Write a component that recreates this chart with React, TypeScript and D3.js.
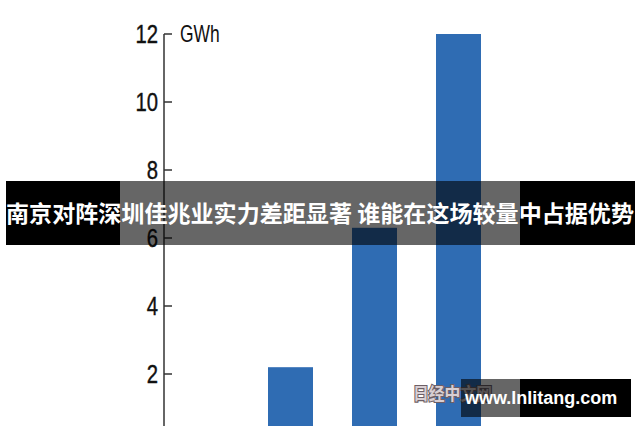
import * as d3 from "d3";

// chart data
const categories = ["A", "B", "C", "D"];
const values = [0.2, 2.2, 6.3, 12];
const yTicks = [2, 4, 6, 8, 10, 12];
const unitLabel = "GWh";
const headline = "南京对阵深圳佳兆业实力差距显著 谁能在这场较量中占据优势";
const logoText = "日经中文网";
const siteText = "www.lnlitang.com";

const W = 640;
const H = 426;
const axisX = 164;
const barColor = "#2f6cb3";
const numFont = "'Liberation Sans', Arial, sans-serif";

export default function App() {
  const y = d3.scaleLinear().domain([0, 12]).range([442, 34]);
  const x = d3
    .scaleBand<string>()
    .domain(categories)
    .range([184, 481])
    .paddingInner(0.4643)
    .paddingOuter(0);

  return (
    <svg
      width={W}
      height={H}
      style={{ position: "absolute", left: 0, top: 0, background: "#fff" }}
    >
      <rect x={0} y={0} width={W} height={H} fill="#fff" />

      {/* bars */}
      {values.map((v, i) => (
        <rect
          key={categories[i]}
          x={x(categories[i])}
          y={y(v)}
          width={x.bandwidth()}
          height={y(0) - y(v)}
          fill={barColor}
        />
      ))}

      {/* y axis, ticks point inward, labels condensed */}
      <line x1={axisX} x2={axisX} y1={y(12)} y2={H + 20} stroke="#333" strokeWidth={1.5} />
      {yTicks.map((t) => (
        <g key={t} transform={`translate(0,${y(t)})`}>
          <line x1={axisX} x2={axisX + 8} stroke="#333" strokeWidth={1.5} />
          <text
            transform="translate(158,0) scale(0.78,1)"
            dy="0.36em"
            textAnchor="end"
            fontFamily={numFont}
            fontSize={26}
            fill="#111"
            stroke="#111"
            strokeWidth={0.4}
          >
            {t}
          </text>
        </g>
      ))}
      <text
        transform={`translate(180,${y(12)}) scale(0.76,1)`}
        dy="0.36em"
        fontFamily={numFont}
        fontSize={23}
        fill="#111"
      >
        {unitLabel}
      </text>

      {/* headline banner */}
      <rect x={6} y={181} width={114} height={64} fill="#000" />
      <rect x={120} y={181} width={400} height={64} fill="rgba(0,0,0,0.6)" />
      <rect x={520} y={181} width={115} height={64} fill="#000" />
      <text
        x={320}
        y={214}
        dy="0.36em"
        textAnchor="middle"
        fontFamily="'Noto Sans CJK SC', sans-serif"
        fontWeight="bold"
        fontSize={23}
        fill="#fff"
        textLength={628}
        lengthAdjust="spacingAndGlyphs"
      >
        {headline}
      </text>

      {/* watermark */}
      <text
        x={413}
        y={394}
        dy="0.36em"
        fontFamily="'Noto Sans CJK SC', sans-serif"
        fontWeight="bold"
        fontSize={17}
        fill="#d8cfd3"
        stroke="#6e5f66"
        strokeWidth={2.2}
        paintOrder="stroke"
        textLength={79}
        lengthAdjust="spacingAndGlyphs"
      >
        {logoText}
      </text>
      <rect x={461} y={379} width={59} height={38} fill="rgba(0,0,0,0.6)" />
      <rect x={520} y={379} width={111} height={38} fill="#000" />
      <text
        x={465}
        y={398}
        dy="0.36em"
        fontFamily="'Liberation Sans', Arial, sans-serif"
        fontWeight="bold"
        fontSize={18}
        fill="#fff"
      >
        {siteText}
      </text>
    </svg>
  );
}
